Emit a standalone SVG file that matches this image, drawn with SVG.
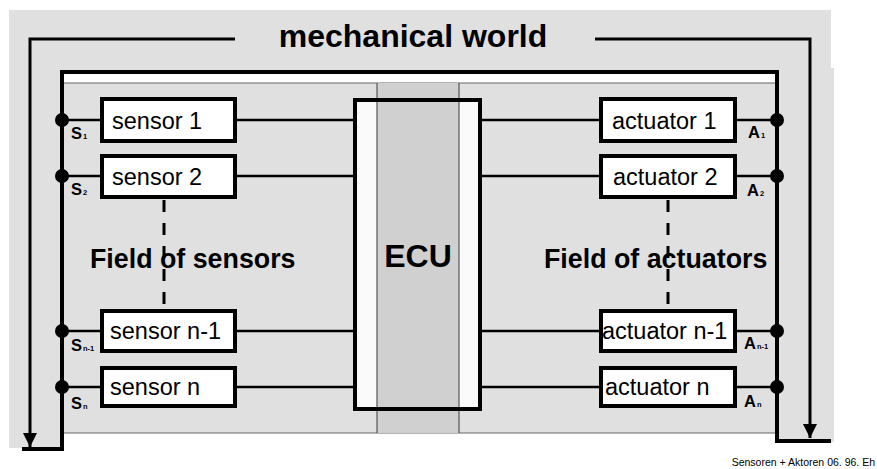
<svg xmlns="http://www.w3.org/2000/svg" width="877" height="469" viewBox="0 0 877 469">
  <style>
    text { font-family: "Liberation Sans", Arial, sans-serif; fill: #000; }
    .box { fill: #fff; stroke: #000; stroke-width: 4; }
    .wire { stroke: #000; stroke-width: 2.5; fill: none; }
    .bus { stroke: #000; stroke-width: 4; fill: none; }
    .flow { stroke: #000; stroke-width: 3; fill: none; }
    .dash { stroke: #000; stroke-width: 3; stroke-dasharray: 12 11; fill: none; }
    .lbl { font-size: 23.5px; }
    .pin { font-size: 16.5px; font-weight: bold; }
    .sub { font-size: 7.5px; font-weight: bold; }
    .field { font-size: 26.8px; font-weight: bold; }
    .dot { fill: #000; }
  </style>
  <defs>
    <marker id="arrow" viewBox="0 0 14 14" refX="14" refY="7" markerWidth="14" markerHeight="14" markerUnits="userSpaceOnUse" orient="auto">
      <path d="M0,0 L14,7 L0,14 Z" fill="#000"/>
    </marker>
  </defs>

  <!-- background: mechanical world -->
  <path d="M9,10 H831 V68 H834 V442 H777 V433 H64 V448 H9 Z" fill="#e0e0e0"/>
  <!-- white band under the top bus -->
  <rect x="64" y="74" width="711" height="9" fill="#fff"/>
  <line x1="64" y1="83" x2="775" y2="83" stroke="#666" stroke-width="1"/>
  <line x1="64" y1="433" x2="775" y2="433" stroke="#666" stroke-width="1"/>

  <!-- ECU -->
  <g id="ecu">
    <rect x="355" y="100" width="125" height="309" fill="#fafafa"/>
    <rect x="377" y="83" width="82" height="350" fill="#d0d0d0"/>
    <line x1="377" y1="83" x2="377" y2="433" stroke="#555" stroke-width="1.2"/>
    <line x1="459" y1="83" x2="459" y2="433" stroke="#555" stroke-width="1.2"/>
    <rect x="355" y="100" width="125" height="309" fill="none" stroke="#000" stroke-width="4"/>
    <text x="418" y="267" font-size="32" font-weight="bold" text-anchor="middle">ECU</text>
  </g>

  <!-- title -->
  <g id="title">
    <text x="413" y="47" font-size="32" font-weight="bold" text-anchor="middle">mechanical world</text>
  </g>

  <g id="connectors">
    <!-- mechanical world feedback paths -->
    <path class="flow" d="M235,39 H30 V447" marker-end="url(#arrow)"/>
    <path class="flow" d="M595,39 H810 V438" marker-end="url(#arrow)"/>
    <!-- sensor / actuator buses -->
    <path class="bus" d="M22,449 H62 V72 H777 V441 H831"/>
    <!-- row wires -->
    <line class="wire" x1="62" y1="120" x2="100" y2="120"/>
    <line class="wire" x1="237" y1="120" x2="353" y2="120"/>
    <line class="wire" x1="482" y1="120" x2="599" y2="120"/>
    <line class="wire" x1="737" y1="120" x2="777" y2="120"/>
    <line class="wire" x1="62" y1="176" x2="100" y2="176"/>
    <line class="wire" x1="237" y1="176" x2="353" y2="176"/>
    <line class="wire" x1="482" y1="176" x2="599" y2="176"/>
    <line class="wire" x1="737" y1="176" x2="777" y2="176"/>
    <line class="wire" x1="62" y1="331" x2="100" y2="331"/>
    <line class="wire" x1="237" y1="331" x2="353" y2="331"/>
    <line class="wire" x1="482" y1="331" x2="599" y2="331"/>
    <line class="wire" x1="737" y1="331" x2="777" y2="331"/>
    <line class="wire" x1="62" y1="387" x2="100" y2="387"/>
    <line class="wire" x1="237" y1="387" x2="353" y2="387"/>
    <line class="wire" x1="482" y1="387" x2="599" y2="387"/>
    <line class="wire" x1="737" y1="387" x2="777" y2="387"/>
    <!-- dashed continuation -->
    <line class="dash" x1="164" y1="200" x2="164" y2="308"/>
    <line class="dash" x1="668" y1="200" x2="668" y2="308"/>
    <!-- junction dots -->
    <circle class="dot" cx="62" cy="120" r="7"/>
    <circle class="dot" cx="62" cy="176" r="7"/>
    <circle class="dot" cx="62" cy="331" r="7"/>
    <circle class="dot" cx="62" cy="387" r="7"/>
    <circle class="dot" cx="777" cy="120" r="7"/>
    <circle class="dot" cx="777" cy="176" r="7"/>
    <circle class="dot" cx="777" cy="331" r="7"/>
    <circle class="dot" cx="777" cy="387" r="7"/>
  </g>

  <!-- field labels -->
  <text class="field" x="90" y="268">Field of sensors</text>
  <text class="field" x="544" y="268">Field of actuators</text>

  <!-- sensors -->
  <g id="sensor1">
    <rect class="box" x="102" y="99" width="133" height="42"/>
    <text class="lbl" x="112" y="129">sensor 1</text>
    <text class="pin" x="71" y="139">S<tspan class="sub" dx="1">1</tspan></text>
  </g>
  <g id="sensor2">
    <rect class="box" x="102" y="156" width="133" height="41"/>
    <text class="lbl" x="112" y="185">sensor 2</text>
    <text class="pin" x="71" y="195">S<tspan class="sub" dx="1">2</tspan></text>
  </g>
  <g id="sensorN1">
    <rect class="box" x="102" y="311" width="133" height="40"/>
    <text class="lbl" x="110" y="339">sensor n-1</text>
    <text class="pin" x="71" y="351">S<tspan class="sub" dx="1">n-1</tspan></text>
  </g>
  <g id="sensorN">
    <rect class="box" x="102" y="368" width="133" height="38"/>
    <text class="lbl" x="110" y="395">sensor n</text>
    <text class="pin" x="71" y="409">S<tspan class="sub" dx="1">n</tspan></text>
  </g>

  <!-- actuators -->
  <g id="actuator1">
    <rect class="box" x="601" y="99" width="134" height="42"/>
    <text class="lbl" x="612" y="129">actuator 1</text>
    <text class="pin" x="748" y="138">A<tspan class="sub" dx="1">1</tspan></text>
  </g>
  <g id="actuator2">
    <rect class="box" x="601" y="156" width="134" height="41"/>
    <text class="lbl" x="613" y="185">actuator 2</text>
    <text class="pin" x="747" y="196">A<tspan class="sub" dx="1">2</tspan></text>
  </g>
  <g id="actuatorN1">
    <rect class="box" x="601" y="311" width="134" height="40"/>
    <text class="lbl" x="602" y="339">actuator n-1</text>
    <text class="pin" x="744" y="349">A<tspan class="sub" dx="1">n-1</tspan></text>
  </g>
  <g id="actuatorN">
    <rect class="box" x="601" y="368" width="134" height="38"/>
    <text class="lbl" x="605" y="395">actuator n</text>
    <text class="pin" x="744" y="407">A<tspan class="sub" dx="1">n</tspan></text>
  </g>

  <text x="875" y="466" font-size="10.5" text-anchor="end">Sensoren + Aktoren 06. 96. Eh</text>
</svg>
